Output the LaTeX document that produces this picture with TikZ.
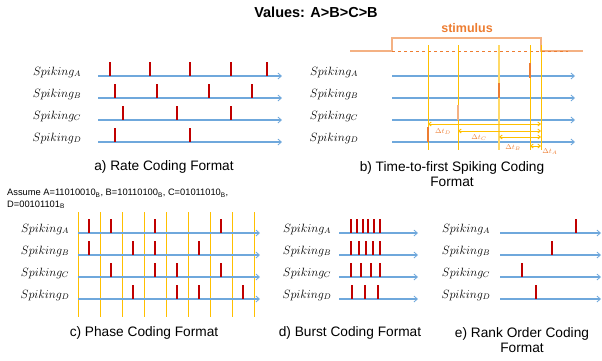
\documentclass[tikz,border=0pt]{standalone}
\usepackage{fontspec}
\setmainfont{Liberation Sans}
\usetikzlibrary{arrows.meta}
\definecolor{spk}{HTML}{C00000}
\definecolor{axisblue}{HTML}{6FA8DC}
\definecolor{ylw}{HTML}{FFC000}
\definecolor{ylwlt}{HTML}{FFD966}
\definecolor{orng}{HTML}{ED7D31}
\definecolor{orlt}{HTML}{F4B183}
\begin{document}
\begin{tikzpicture}[x=1pt,y=-1pt,
  axis/.style={draw=axisblue, line width=1.2pt, -{Straight Barb[length=3.5pt,width=6pt,line width=0.8pt]}},
  spike/.style={draw=spk, line width=1.7pt},
  ospike/.style={draw=orng, line width=1.7pt},
  lbl/.style={font=\fontsize{11.5}{12}\selectfont, inner sep=0pt},
  captxt/.style={font=\fontsize{13.7}{15}\selectfont, align=center, inner sep=0pt},
  vline/.style={draw=ylw, line width=1pt},
  dt/.style={draw=ylw, line width=0.9pt, {Straight Barb[length=2.5pt,width=4pt]}-{Straight Barb[length=2.5pt,width=4pt]}},
  dtl/.style={font=\fontsize{7}{8}\selectfont, text=orng, inner sep=0pt}]
\useasboundingbox (0,0) rectangle (602,360);

\node[font=\bfseries\fontsize{14.5}{17}\selectfont] (title) at (316,12) {Values: A>B>C>B};

% ---------- panel a ----------
\foreach \n/\y in {A/76,B/98,C/120,D/142}{
  \node[lbl] (la\n) at (57,\y-4) {$Spiking_{\n}$};
  \draw[axis] (98,\y) -- (282,\y);
}
\foreach \x in {110,150,190,231,267} \draw[spike] (\x,62) -- (\x,76);
\foreach \x in {115,157,209,252} \draw[spike] (\x,84) -- (\x,98);
\foreach \x in {123,177,231} \draw[spike] (\x,106) -- (\x,120);
\foreach \x in {115,190} \draw[spike] (\x,128) -- (\x,142);
\node[captxt] (capa) at (164,167) {a) Rate Coding Format};

% ---------- panel b ----------
\node[font=\bfseries\fontsize{12.5}{14}\selectfont, text=orng] (stim) at (467,28) {stimulus};
\draw[draw=orlt, line width=1.2pt] (350,51) -- (392,51) -- (392,38) -- (541,38) -- (541,51) -- (583,51);
\draw[draw=orng, line width=0.9pt, dashed] (392,51) -- (568,51);
\foreach \n/\y in {A/76,B/98,C/120,D/142}{
  \node[lbl] (lb\n) at (334,\y-4) {$Spiking_{\n}$};
  \draw[axis] (392,\y) -- (575,\y);
}
\foreach \x in {428,458,530,541} \draw[vline] (\x,45) -- (\x,150);
\draw[draw=ylwlt, line width=2pt] (499,45) -- (499,150);
\draw[ospike] (530,63) -- (530,78);
\draw[ospike] (499,83) -- (499,98);
\draw[ospike, draw=orlt] (458,105) -- (458,120);
\draw[ospike] (428,127) -- (428,142);
\draw[dt] (428,124) -- (541,124);
\draw[dt] (458,131) -- (541,131);
\draw[dt] (499,137) -- (541,137);
\draw[dt] (530,146) -- (541,146);
\node[dtl] (dD) at (443,132) {$\Delta t_D$};
\node[dtl] (dC) at (479,138) {$\Delta t_C$};
\node[dtl] (dB) at (513,148) {$\Delta t_B$};
\node[dtl] (dA) at (550,152) {$\Delta t_A$};
\node[captxt] (capb) at (452,174) {b) Time-to-first Spiking Coding\\Format};

% ---------- panel c ----------
\node[font=\fontsize{9.3}{11.5}\selectfont, align=left, anchor=north west, inner sep=0pt] (assume) at (7,189)
  {Assume A=11010010\textsubscript{B}, B=10110100\textsubscript{B}, C=01011010\textsubscript{B},\\D=00101101\textsubscript{B}};
\foreach \i in {0,...,8} \draw[vline] ({78+\i*22},212) -- ({78+\i*22},317);
\foreach \n/\y in {A/233,B/255,C/277,D/299}{
  \node[lbl] (lc\n) at (45,\y-4) {$Spiking_{\n}$};
  \draw[axis] (78,\y) -- (260,\y);
}
\foreach \s in {0,1,3,6} \draw[spike] ({89+\s*22},219) -- ({89+\s*22},233);
\foreach \s in {0,2,3,5} \draw[spike] ({89+\s*22},241) -- ({89+\s*22},255);
\foreach \s in {1,3,4,6} \draw[spike] ({89+\s*22},263) -- ({89+\s*22},277);
\foreach \s in {2,4,5,7} \draw[spike] ({89+\s*22},285) -- ({89+\s*22},299);
\node[captxt] (capc) at (144,333) {c) Phase Coding Format};

% ---------- panel d ----------
\foreach \n/\y in {A/233,B/255,C/277,D/299}{
  \node[lbl] (ld\n) at (307,\y-4) {$Spiking_{\n}$};
  \draw[axis] (339,\y) -- (418,\y);
}
\foreach \x in {351,357,363,368,374,380} \draw[spike] (\x,219) -- (\x,233);
\foreach \x in {351,359,366,373,380} \draw[spike] (\x,241) -- (\x,255);
\foreach \x in {351,361,371,380} \draw[spike] (\x,263) -- (\x,277);
\foreach \x in {352,365,378} \draw[spike] (\x,285) -- (\x,299);
\node[captxt] (capd) at (350,333) {d) Burst Coding Format};

% ---------- panel e ----------
\foreach \n/\y in {A/233,B/255,C/277,D/299}{
  \node[lbl] (le\n) at (466,\y-4) {$Spiking_{\n}$};
  \draw[axis] (500,\y) -- (601,\y);
}
\draw[spike] (576,219) -- (576,233);
\draw[spike] (552,241) -- (552,255);
\draw[spike] (522,263) -- (522,277);
\draw[spike] (536,285) -- (536,299);
\node[captxt] (cape) at (522,340.5) {e) Rank Order Coding\\Format};
\end{tikzpicture}
\end{document}
